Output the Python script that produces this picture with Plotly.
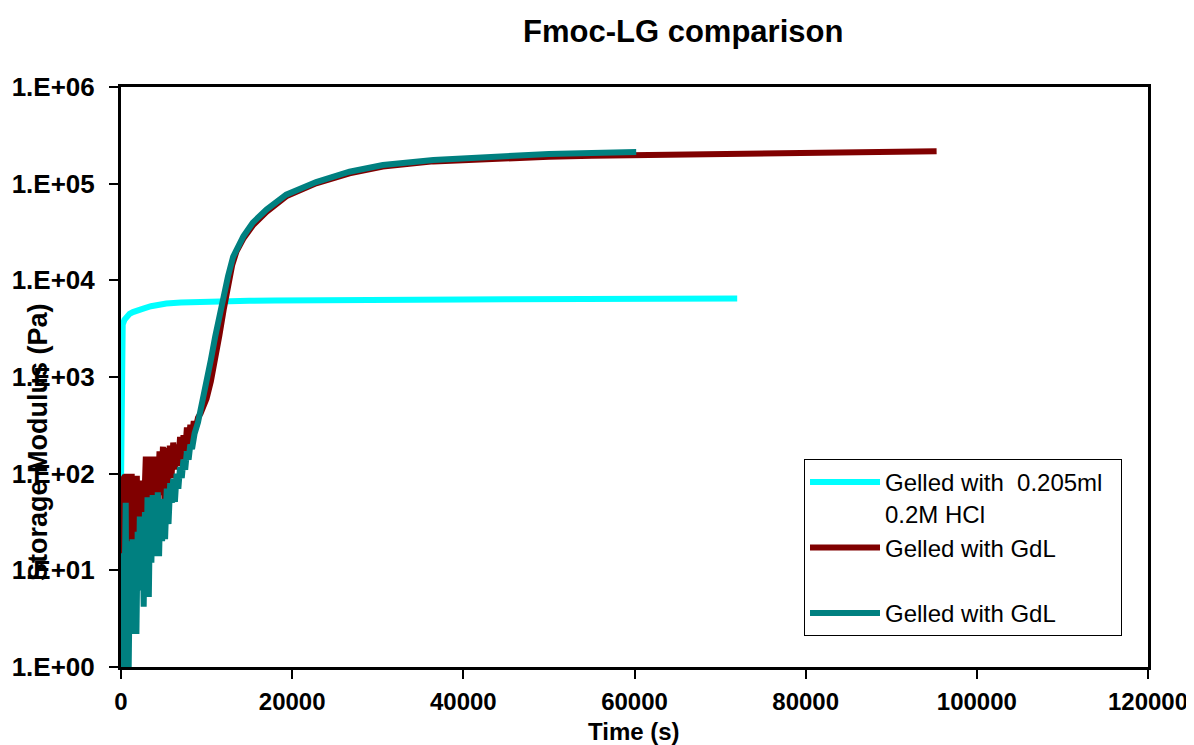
import plotly.graph_objects as go

# ---------------- data ----------------
hcl_time = [0, 30, 60, 100, 200, 400, 700, 1000, 1400, 2000, 2600, 3500, 4300, 5300,
            7000, 9000, 12000, 15000, 18000, 21000, 25000, 30000, 35000, 40000,
            45000, 50000, 55000, 60000, 65000, 70000, 72000]
hcl_g = [75, 200, 1000, 2500, 3500, 3900, 4250, 4500, 4700, 4950, 5100, 5400, 5600, 5750,
         5900, 6000, 6100, 6150, 6200, 6250, 6270, 6300, 6330, 6350,
         6380, 6400, 6420, 6450, 6470, 6500, 6500]

gdl1_time = [0, 80, 150, 230, 320, 400, 480, 560, 650, 750, 850, 950, 1050, 1150, 1250,
             1400, 1550, 1700, 1850, 2000, 2150, 2300, 2450, 2600, 2750, 2900, 3050,
             3200, 3350, 3500, 3650, 3800, 3950, 4100, 4300, 4500, 4700, 4900, 5100,
             5300, 5500, 5700, 5900, 6100, 6300, 6500, 6700, 6900, 7100, 7300, 7500,
             7700, 7900, 8100, 8300, 8500, 8700, 9000, 9300, 9600, 10000, 10500, 11000,
             11500, 12000, 12500, 13000, 13500, 14300, 15400, 17000, 19300, 22800,
             26700, 30600, 36500, 43500, 50000, 55000, 60000, 65000, 70000, 75000,
             80000, 85000, 90000, 95300]
gdl1_g = [60, 12, 75, 8, 90, 15, 95, 7, 100, 20, 95, 6, 85, 10, 100,
          6, 90, 25, 95, 9, 80, 30, 85, 40, 60, 150, 45,
          140, 55, 150, 40, 145, 60, 150, 55, 170, 60, 190, 45,
          185, 80, 195, 90, 210, 110, 200, 120, 240, 140, 250, 170,
          300, 200, 320, 240, 350, 290, 380, 420, 500, 600, 900, 1500,
          2700, 5000, 9000, 14500, 20000, 27000, 37000, 51000, 74000, 101000,
          128000, 150000, 170000, 183000, 190000, 194000, 197000, 200000, 203000, 206000,
          209000, 211000, 214000, 217000]

gdl2_time = [0, 100, 200, 300, 450, 550, 650, 800, 900, 1050, 1200, 1350, 1500, 1650,
             1800, 1950, 2100, 2200, 2350, 2500, 2650, 2800, 2950, 3100, 3250, 3400,
             3550, 3700, 3850, 4000, 4150, 4300, 4450, 4600, 4800, 5000, 5150, 5350,
             5550, 5750, 5950, 6100, 6300, 6500, 6700, 6900, 7100, 7300, 7500, 7700,
             7900, 8100, 8300, 8600, 9000, 9400, 9700, 10000, 10500, 11000, 11500,
             12000, 12500, 13100, 14300, 15400, 17000, 19300, 22800, 26700, 30600,
             36500, 43500, 50000, 55000, 60200]
gdl2_g = [15, 1, 3, 0.7, 10, 50, 1.1, 20, 1.0, 15, 3, 21, 2.2, 18,
          2.2, 25, 8, 36, 6.2, 33, 4.2, 40, 6, 57, 5.3, 50,
          12, 60, 14, 55, 15, 64, 14, 55, 20, 50, 21, 70,
          30, 80, 50, 89, 51, 100, 70, 117, 90, 140, 110, 170,
          140, 200, 180, 260, 340, 490, 650, 900, 1500, 2600, 4400,
          7000, 11000, 17500, 28500, 39500, 54000, 77000, 104000, 133000, 156000,
          176000, 193000, 203000, 208000, 213000]

series_names = ["Gelled with  0.205ml\u00a0\u00a0<br>0.2M HCl", "Gelled with GdL<br> ", "Gelled with GdL"]
series_colors = ["#00FFFF", "#800000", "#008080"]

y_tickvals = [1, 10, 100, 1000, 10000, 100000, 1000000]
y_ticktext = ["1.E+00", "1.E+01", "1.E+02", "1.E+03", "1.E+04", "1.E+05", "1.E+06"]
x_tickvals = [0, 20000, 40000, 60000, 80000, 100000, 120000]
x_ticktext = ["0", "20000", "40000", "60000", "80000", "100000", "120000"]

# ---------------- figure ----------------
FONT = "Liberation Sans, Arial, sans-serif"
OFF = 8  # default page body margin
W, H = 1194 - OFF, 745 - OFF
L, R, T, B = 121 - OFF, 1148 - OFF, 87 - OFF, 667 - OFF


def px_x(p):
    return (p - OFF - L) / (R - L)


def px_y(p):
    return (B - (p - OFF)) / (B - T)


fig = go.Figure()
for t, g, name, col in zip([hcl_time, gdl1_time, gdl2_time], [hcl_g, gdl1_g, gdl2_g],
                           series_names, series_colors):
    fig.add_trace(go.Scatter(x=t, y=g, mode="lines", name=name,
                             line=dict(color=col, width=6), cliponaxis=True))

fig.update_layout(
    width=W, height=H,
    margin=dict(l=L, r=W - R, t=T, b=H - B, autoexpand=False),
    paper_bgcolor="white", plot_bgcolor="white",
    font=dict(family=FONT, color="black"),
    showlegend=True,
    legend=dict(x=px_x(804), y=px_y(459), xanchor="left", yanchor="top",
                bgcolor="white", bordercolor="black", borderwidth=1,
                font=dict(size=24, family=FONT, color="black"),
                valign="top", itemwidth=70),
)
fig.update_xaxes(range=[0, 120000], tickvals=x_tickvals, ticktext=x_ticktext,
                 ticks="outside", ticklen=9, tickwidth=2, tickcolor="black",
                 showline=True, linecolor="black", linewidth=3, mirror=True,
                 showgrid=False, zeroline=False, automargin=False, ticklabelstandoff=2,
                 tickfont=dict(size=24, family=FONT, color="black", weight="bold"))
fig.update_yaxes(type="log", range=[0, 6], tickvals=y_tickvals, ticktext=y_ticktext,
                 ticks="outside", ticklen=9, tickwidth=2, tickcolor="black",
                 showline=True, linecolor="black", linewidth=3, mirror=True,
                 showgrid=False, zeroline=False, ticklabelstandoff=9, automargin=False,
                 tickfont=dict(size=26, family=FONT, color="black", weight="bold"))

fig.add_annotation(text="<b>Fmoc-LG comparison</b>", xref="paper", yref="paper",
                   x=px_x(683), y=px_y(32), showarrow=False,
                   xanchor="center", yanchor="middle",
                   font=dict(size=31, family=FONT, color="black"))
fig.add_annotation(text="<b>Time (s)</b>", xref="paper", yref="paper",
                   x=px_x(634), y=px_y(731), showarrow=False,
                   xanchor="center", yanchor="middle",
                   font=dict(size=24, family=FONT, color="black"))
fig.add_annotation(text="<b>Storage Modulus (Pa)</b>", xref="paper", yref="paper",
                   x=px_x(38), y=px_y(442), showarrow=False,
                   xanchor="center", yanchor="middle", textangle=-90,
                   font=dict(size=27, family=FONT, color="black"))

fig.write_html("out.html")
